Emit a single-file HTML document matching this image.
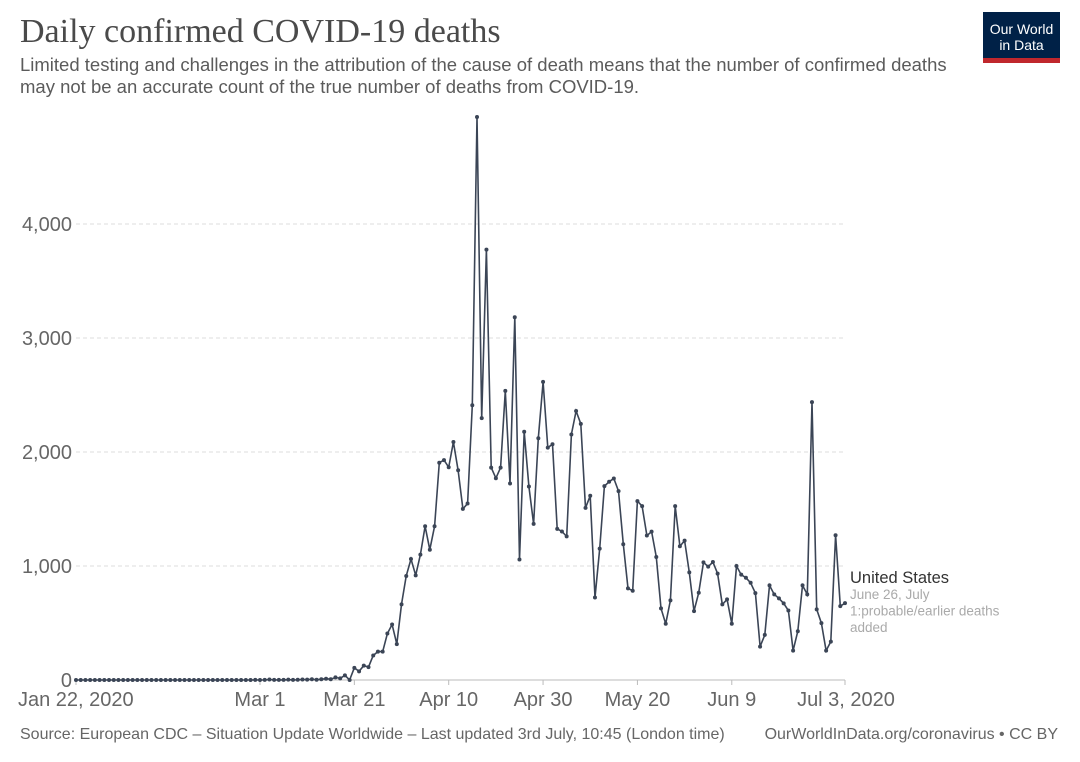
<!DOCTYPE html>
<html><head><meta charset="utf-8"><style>
body{margin:0;background:#fff;width:1080px;height:762px;overflow:hidden;font-family:"Liberation Sans",sans-serif}
#t{position:absolute;left:20px;top:13px;font:34px "Liberation Serif",serif;color:#4a4a4a;margin:0;font-weight:normal}
#s{position:absolute;left:20px;top:54px;font-size:18.5px;line-height:22px;color:#5b5b5b;width:945px}
#logo{position:absolute;left:983px;top:12px;width:77px;height:51px;background:#002147;color:#fff;font-size:14px;line-height:16px;text-align:center;box-sizing:border-box;padding-top:9px;border-bottom:5px solid #c0272d}
svg{position:absolute;left:0;top:0}
</style></head><body>
<h1 id="t">Daily confirmed COVID-19 deaths</h1>
<div id="s">Limited testing and challenges in the attribution of the cause of death means that the number of confirmed deaths may not be an accurate count of the true number of deaths from COVID-19.</div>
<div id="logo">Our World<br>in Data</div>
<svg id="c" width="1080" height="762"></svg>
<script>
const yTicks=[0,1000,2000,3000,4000];
const yTickLabels=["0","1,000","2,000","3,000","4,000"];
const xTickDays=[0,39,59,79,99,119,139,163];
const xTickLabels=["Jan 22, 2020","Mar 1","Mar 21","Apr 10","Apr 30","May 20","Jun 9","Jul 3, 2020"];
const early=[0,0,0,0,0,0,0,0,0,0,0,0,0,0,0,0,0,0,0,0,0,0,0,0,0,0,0,0,0,0,0,0,0,0,0,0,0,0,1,0,1,4,1,1,1,3,1,2,4,3,7,2,7,11,7,23,14,41,0];
const later=[106,76,126,113,215,249,249,408,487,315,663,912,1061,918,1100,1349,1143,1349,1906,1929,1866,2088,1840,1501,1548,2410,4939,2297,3775,1863,1770,1863,2536,1724,3182,1057,2178,1697,1369,2121,2615,2038,2068,1326,1303,1260,2154,2360,2247,1510,1616,724,1152,1701,1739,1768,1657,1191,804,783,1569,1525,1267,1302,1079,628,493,698,1525,1173,1223,944,604,765,1032,994,1035,933,663,707,493,1000,924,897,853,762,293,396,830,751,716,672,610,258,428,830,751,2437,619,499,258,337,1270,648,674];
const deaths=early.concat(later);
const NS='http://www.w3.org/2000/svg',svg=document.getElementById('c');
const X0=76,X1=845,Y0=680,Y4=224,D=163;
const xs=d=>X0+(X1-X0)*d/D, ys=v=>Y0-(Y0-Y4)*v/4000;
function mk(tag,at,txt){const e=document.createElementNS(NS,tag);for(const k in at)e.setAttribute(k,at[k]);if(txt!=null)e.textContent=txt;svg.appendChild(e);return e;}
yTicks.forEach((v,i)=>{
 if(v>0){const g=mk('line',{x1:X0,x2:X1,y1:ys(v),y2:ys(v),stroke:'#ddd','stroke-dasharray':'4,3'});
 
 }
 const t=mk('text',{x:72,y:ys(v)+7,'text-anchor':'end','font-size':20,fill:'#666'},yTickLabels[i]);
 
 
});
const ax=mk('line',{x1:X0,x2:X1,y1:Y0,y2:Y0,stroke:'#bbb'});


xTickDays.forEach((d,i)=>{
 const tk=mk('line',{x1:xs(d),x2:xs(d),y1:Y0,y2:Y0+5,stroke:'#bbb'});
 
 
 const anc=i==0?'start':'middle';
 const t=mk('text',{x:i==0?18:(i==xTickDays.length-1?xs(d)+1:xs(d)),y:706,'text-anchor':anc,'font-size':20,fill:'#666'},xTickLabels[i]);
 
 
});
const pts=deaths.map((v,i)=>xs(i).toFixed(1)+','+ys(v).toFixed(1)).join(' ');
const ln=mk('polyline',{points:pts,fill:'none',stroke:'#3b4556','stroke-width':1.6});


deaths.forEach((v,i)=>{const c=mk('circle',{cx:xs(i),cy:ys(v),r:2,fill:'#3b4556'});
 
 });
const lab=mk('text',{x:850,y:583,'font-size':16.5,fill:'#333'},'United States');


['June 26, July','1:probable/earlier deaths','added'].forEach((s,i)=>{const a=mk('text',{x:850,y:599+i*16.5,'font-size':13.5,fill:'#aaa'},s);
 
 });
const f1=mk('text',{x:20,y:739,'font-size':16,fill:'#666'},'Source: European CDC – Situation Update Worldwide – Last updated 3rd July, 10:45 (London time)');


const f2=mk('text',{x:1058,y:739,'font-size':16,fill:'#666','text-anchor':'end'},'OurWorldInData.org/coronavirus • CC BY');


</script>
</body></html>
